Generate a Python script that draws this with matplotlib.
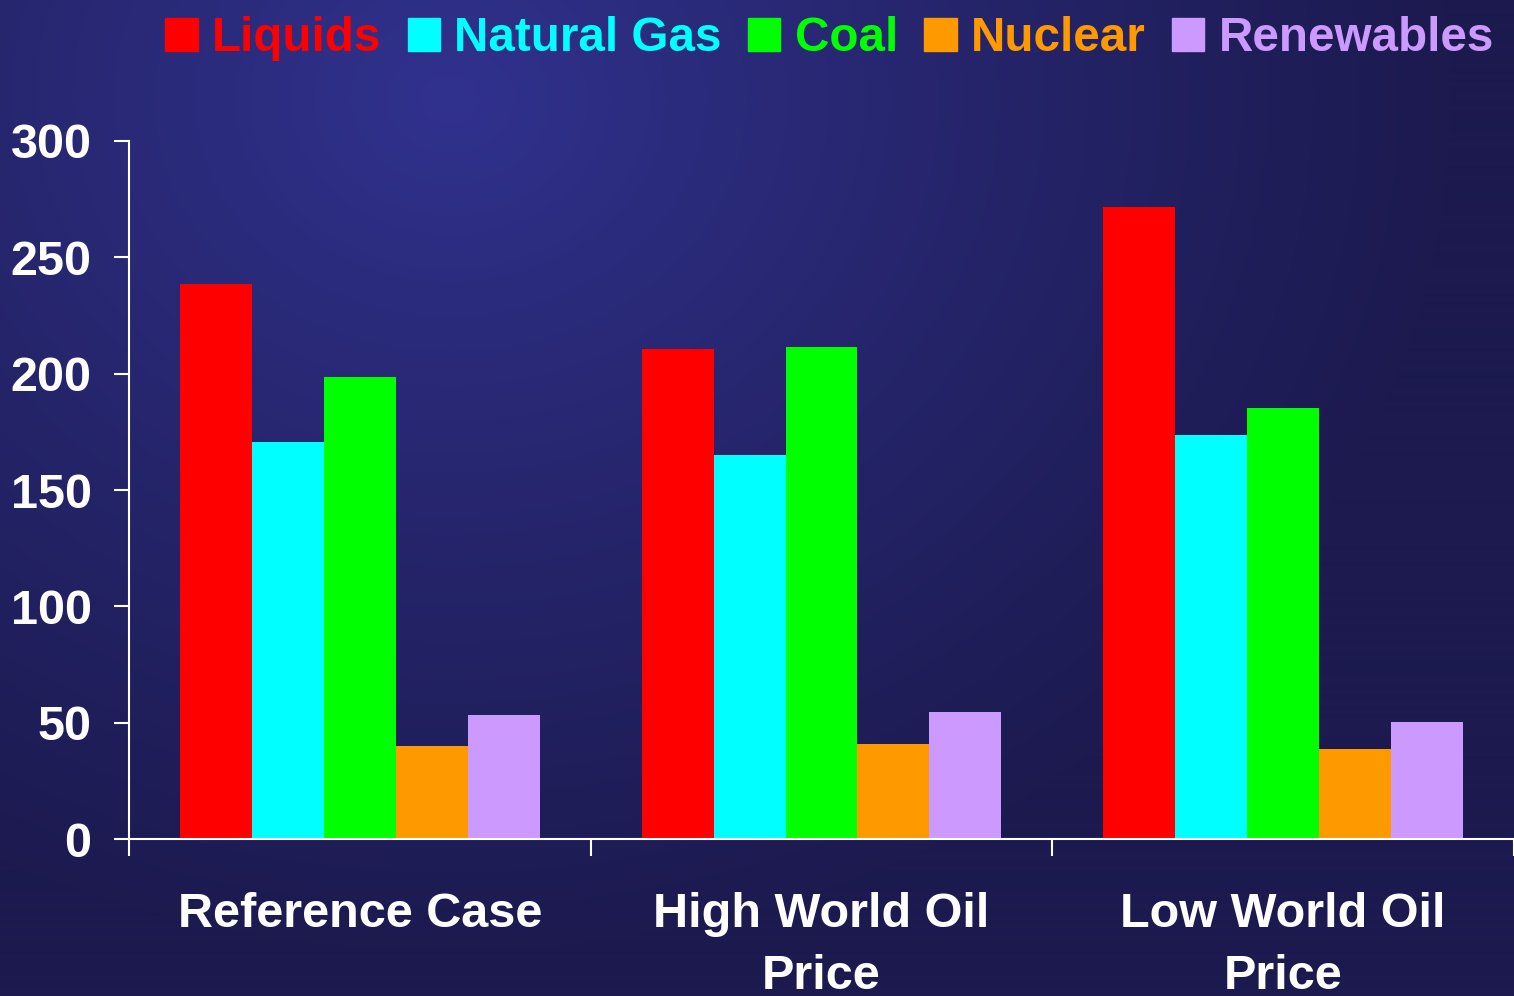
import matplotlib.pyplot as plt
import matplotlib.patches as mpatches
import numpy as np

plt.rcParams['font.family'] = ['Liberation Sans', 'DejaVu Sans']
plt.rcParams['font.weight'] = 'bold'

categories = ['Reference Case', 'High World Oil\nPrice', 'Low World Oil\nPrice']
series = ['Liquids', 'Natural Gas', 'Coal', 'Nuclear', 'Renewables']
liquids = [238.5, 210.6, 271.6]
natural_gas = [170.6, 165.0, 173.6]
coal = [198.5, 211.4, 185.2]
nuclear = [40.0, 40.8, 38.7]
renewables = [53.3, 54.6, 50.3]
colors = ['#ff0000', '#00ffff', '#00ff00', '#ff9900', '#cc99ff']


def draw_background(fig):
    bg = fig.add_axes([0, 0, 1, 1], zorder=-10)
    h, w = 996, 1514
    yy, xx = np.mgrid[0:h, 0:w]
    d = np.sqrt(((xx - 450) / 1.0) ** 2 + ((yy - 100) / 0.85) ** 2)
    t = np.clip(d / 1000.0, 0, 1) ** 0.9
    light = np.array([0x31, 0x32, 0x8f]) / 255
    dark = np.array([0x1c, 0x1a, 0x4f]) / 255
    img = light[None, None, :] * (1 - t[..., None]) + dark[None, None, :] * t[..., None]
    bg.imshow(img, aspect='auto', extent=[0, 1, 0, 1])
    bg.axis('off')


fig = plt.figure(figsize=(15.14, 9.96), dpi=100)
draw_background(fig)
ax = fig.add_axes([129 / 1514, 157 / 996, 1385 / 1514, 698 / 996])
ax.patch.set_alpha(0)

x = np.arange(len(categories))
w = 0.1558
data = [liquids, natural_gas, coal, nuclear, renewables]
for i, (name, vals, c) in enumerate(zip(series, data, colors)):
    ax.bar(x + (i - 2) * w, vals, w, color=c, label=name, zorder=2)

ax.set_xlim(-0.5, 2.5)
ax.set_ylim(0, 300)
ax.set_yticks([0, 50, 100, 150, 200, 250, 300])
ax.set_xticks([-0.5, 0.5, 1.5, 2.5])
ax.set_xticklabels([])
ax.set_xticks(x, minor=True)
ax.set_xticklabels(categories, minor=True, fontsize=35, color='white',
                   fontweight='bold', linespacing=1.5)
ax.tick_params(axis='x', which='minor', length=0, pad=38)
ax.tick_params(axis='x', which='major', length=12, width=1.5, color='white', direction='out')
ax.tick_params(axis='y', length=11, width=1.5, color='white', pad=16,
               labelsize=35, labelcolor='white')
for lbl in ax.get_yticklabels():
    lbl.set_fontweight('bold')

for s in ['top', 'right']:
    ax.spines[s].set_visible(False)
for s in ['left', 'bottom']:
    ax.spines[s].set_color('white')
    ax.spines[s].set_linewidth(1.5)

handles = [mpatches.Patch(color=c) for c in colors]
leg = fig.legend(handles, series, loc='upper center', bbox_to_anchor=(0.548, 1.008),
                 ncol=5, frameon=False, handlelength=0.68,
                 handleheight=0.68, handletextpad=0.3, columnspacing=0.55,
                 borderpad=0, prop={'weight': 'bold', 'size': 34.3})
for t, c in zip(leg.get_texts(), colors):
    t.set_color(c)

fig.savefig('out.png', dpi=100)
